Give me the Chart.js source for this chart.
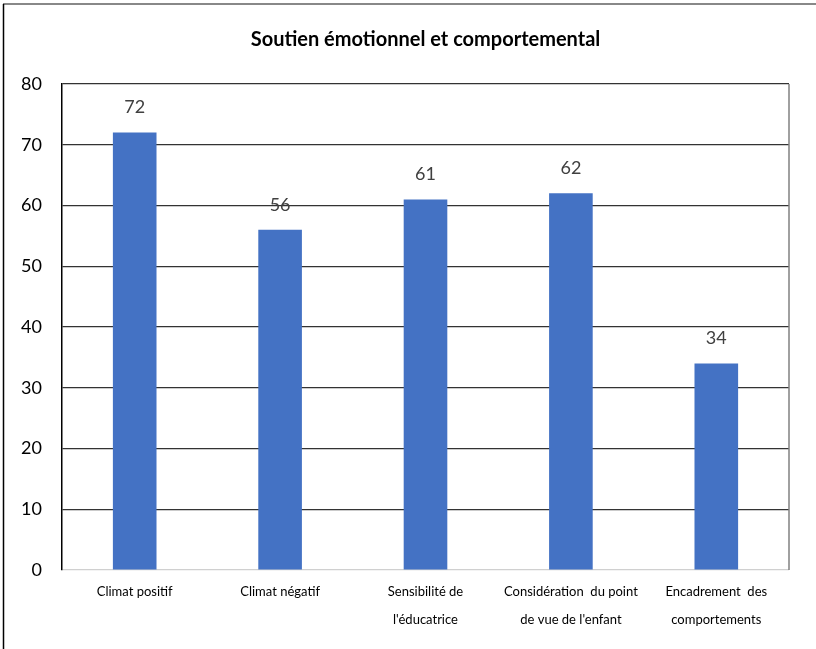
<!DOCTYPE html>
<html>
<head>
<meta charset="utf-8">
<script src="https://cdn.jsdelivr.net/npm/chart.js@4.4.1/dist/chart.umd.min.js"></script>
<style>
    html, body { margin: 0; padding: 0; background: #fff; }
    #wrap { width: 816px; height: 649px; position: relative; }
</style>
</head>
<body>
<div id="wrap"><canvas id="chart" width="816" height="649"></canvas></div>
<script>
const chartTitle = 'Soutien émotionnel et comportemental';
const categories = [
    ['Climat positif'],
    ['Climat négatif'],
    ['Sensibilité de', "l'éducatrice"],
    ['Considération  du point', "de vue de l'enfant"],
    ['Encadrement  des', 'comportements']
];
const scores = [72, 56, 61, 62, 34];
const yTicks = [0, 10, 20, 30, 40, 50, 60, 70, 80];

const FONT = 'Lato, "Liberation Sans", sans-serif';

// outer frame, right edge of the plot area and the title (centred on the plot)
const framePlugin = {
    id: 'frame',
    beforeDraw(chart) {
        const c = chart.ctx;
        c.save();
        c.fillStyle = '#fff';
        c.fillRect(0, 0, chart.width, chart.height);
        c.strokeStyle = '#888';
        c.lineWidth = 2;
        c.beginPath();
        c.moveTo(3, 4);
        c.lineTo(chart.width, 4);
        c.stroke();
        c.strokeStyle = '#000';
        c.lineWidth = 1.5;
        c.beginPath();
        c.moveTo(3.5, 4);
        c.lineTo(3.5, chart.height);
        c.stroke();
        c.restore();
    },
    afterDraw(chart) {
        const a = chart.chartArea;
        const c = chart.ctx;
        c.save();
        c.strokeStyle = '#808080';
        c.lineWidth = 1.5;
        c.beginPath();
        c.moveTo(a.right, a.top);
        c.lineTo(a.right, a.bottom);
        c.stroke();
        c.fillStyle = '#000';
        c.font = 'bold 20px ' + FONT;
        c.textAlign = 'center';
        c.textBaseline = 'middle';
        c.fillText(chartTitle, (a.left + a.right) / 2, 40);
        c.restore();
    }
};

// value labels above each bar
const valueLabels = {
    id: 'valueLabels',
    afterDatasetsDraw(chart) {
        const c = chart.ctx;
        const meta = chart.getDatasetMeta(0);
        c.save();
        c.font = '18px ' + FONT;
        c.fillStyle = '#404040';
        c.textAlign = 'center';
        c.textBaseline = 'middle';
        meta.data.forEach((bar, i) => {
            c.fillText(String(scores[i]), bar.x, bar.y - 25);
        });
        c.restore();
    }
};

new Chart(document.getElementById('chart'), {
    type: 'bar',
    data: {
        labels: categories,
        datasets: [{
            data: scores,
            backgroundColor: '#4472C4',
            borderWidth: 0,
            barPercentage: 0.6,
            categoryPercentage: 0.5
        }]
    },
    options: {
        responsive: false,
        animation: false,
        layout: { padding: { left: 0, right: 27, top: 84, bottom: 0 } },
        plugins: {
            legend: { display: false },
            tooltip: { enabled: false },
            title: { display: false }
        },
        scales: {
            x: {
                grid: { display: false },
                border: { display: false },
                ticks: {
                    color: '#000',
                    maxRotation: 0,
                    autoSkip: false,
                    padding: 0,
                    font: { family: FONT, size: 13, lineHeight: 2.15 }
                },
                afterFit(scale) { scale.height = 79; }
            },
            y: {
                min: 0,
                max: 80,
                afterBuildTicks(scale) { scale.ticks = yTicks.map(v => ({ value: v })); },
                grid: {
                    drawTicks: false,
                    color: ctx => ctx.tick && ctx.tick.value === 0 ? '#d0d0d0' : '#333',
                    lineWidth: 1.2
                },
                border: { display: true, color: '#000', width: 1.5 },
                ticks: {
                    color: '#000',
                    padding: 20,
                    font: { family: FONT, size: 18 }
                },
                afterFit(scale) { scale.width = 62; }
            }
        }
    },
    plugins: [framePlugin, valueLabels]
});
</script>
</body>
</html>
